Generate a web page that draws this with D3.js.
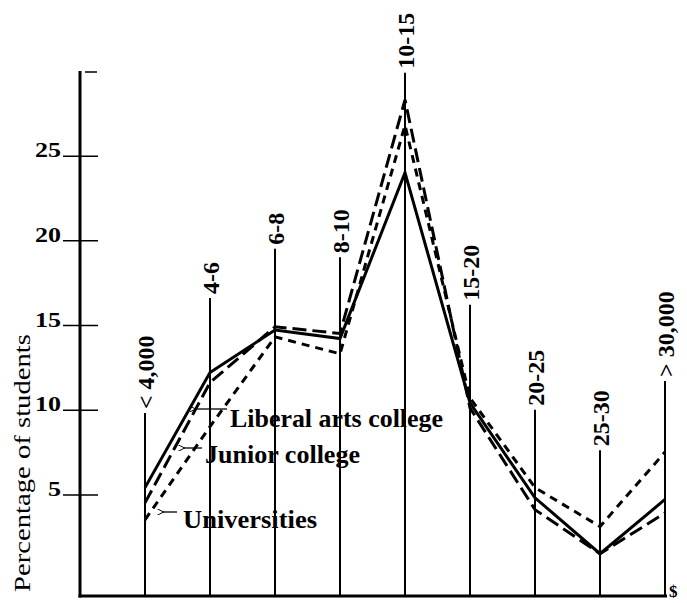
<!DOCTYPE html>
<html><head><meta charset="utf-8">
<script src="https://cdn.jsdelivr.net/npm/d3@7"></script>
<style>body{margin:0;background:#fff}</style>
</head><body>
<svg id="c" width="687" height="603"></svg>
<script>
// ---- data ----
const categories = ["< 4,000","4-6","6-8","8-10","10-15","15-20","20-25","25-30","> 30,000"];
const liberalArts   = [5.4, 12.2, 14.7, 14.2, 24.0, 10.4, 4.8, 1.5, 4.7];
const juniorCollege = [4.5, 11.6, 14.9, 14.5, 28.3, 10.1, 4.1, 1.5, 3.9];
const universities  = [3.5,  9.0, 14.3, 13.3, 26.8, 10.7, 5.4, 3.1, 7.5];
// height (in % units) reached by each category's vertical guide line
const guideHeights  = [9.8, 16.6, 19.5, 19.0, 29.9, 16.2, 10.0, 7.6, 11.7];
const yTicks = [5, 10, 15, 20, 25];
const yLabel = "Percentage of students";
const unitLabel = "$";
const seriesNames = ["Liberal arts college", "Junior college", "Universities"];

const svg = d3.select("#c");
const serif = "'Liberation Serif', 'DejaVu Serif', serif";

const x = d3.scalePoint().domain(categories).range([145, 665]);
const y = d3.scaleLinear().domain([-1, 30]).range([596, 71]);

// vertical guide lines
svg.append("g").selectAll("line").data(categories).join("line")
  .attr("x1", d => x(d)).attr("x2", d => x(d))
  .attr("y1", y(-1)).attr("y2", (d, i) => y(guideHeights[i]))
  .attr("stroke", "#000").attr("stroke-width", 2);

// category labels (rotated)
svg.append("g").selectAll("text").data(categories).join("text")
  .attr("transform", (d, i) => `translate(${x(d)},${y(guideHeights[i]) - 4}) rotate(-90)`)
  .attr("dy", "0.36em")
  .attr("font-family", serif).attr("font-weight", "bold").attr("font-size", 24)
  .attr("fill", "#000")
  .text(d => d);

// y axis
const yAxis = d3.axisLeft(y).tickValues(yTicks).tickSize(17).tickFormat(d3.format("d"));
const gy = svg.append("g").attr("transform", "translate(80,0)").call(yAxis);
gy.select(".domain").remove();
gy.selectAll(".tick line").attr("x1", -17).attr("x2", 18).attr("stroke-width", 1.5);
gy.selectAll(".tick text")
  .attr("x", -19).attr("dy", "0.05em")
  .attr("font-family", serif).attr("font-weight", "bold").attr("font-size", 20)
  .attr("fill", "#000")
  .attr("textLength", d => String(d).length * 13)
  .attr("lengthAdjust", "spacingAndGlyphs");
// top small tick
svg.append("line").attr("x1", 85).attr("x2", 97).attr("y1", y(30)+1).attr("y2", y(30)+1)
  .attr("stroke", "#000").attr("stroke-width", 1.5);

svg.append("line").attr("x1", 80).attr("x2", 80).attr("y1", y(30)).attr("y2", y(-1) + 1.5)
  .attr("stroke", "#000").attr("stroke-width", 3);
// baseline
svg.append("line").attr("x1", 78.5).attr("x2", x(categories[categories.length-1]) + 2).attr("y1", y(-1)).attr("y2", y(-1))
  .attr("stroke", "#000").attr("stroke-width", 3);
svg.append("text").attr("x", 669).attr("y", 597)
  .attr("font-family", serif).attr("font-weight", "bold").attr("font-size", 17)
  .text(unitLabel);

// y label
svg.append("text")
  .attr("transform", `translate(30,463) rotate(-90)`)
  .attr("text-anchor", "middle")
  .attr("font-family", serif).attr("font-size", 24)
  .attr("textLength", 258).attr("lengthAdjust", "spacingAndGlyphs")
  .text(yLabel);

// series lines
const line = d3.line().x((d, i) => x(categories[i])).y(d => y(d));
const series = [
  {vals: liberalArts, dash: null},
  {vals: juniorCollege, dash: "14,6"},
  {vals: universities, dash: "8,6"}
];
svg.append("g").selectAll("path").data(series).join("path")
  .attr("d", d => line(d.vals))
  .attr("fill", "none").attr("stroke", "#000").attr("stroke-width", 3)
  .attr("stroke-dasharray", d => d.dash)
  .attr("stroke-linejoin", "miter");

// legend annotations with arrows
svg.append("defs").append("marker").attr("id", "ah")
  .attr("viewBox", "0 0 10 10").attr("refX", 1).attr("refY", 5)
  .attr("markerWidth", 5).attr("markerHeight", 5).attr("orient", "auto-start-reverse")
  .append("path").attr("d", "M10,0 L0,5 L10,10").attr("fill", "none").attr("stroke", "#000").attr("stroke-width", 1.5);

const ann = [
  {name: seriesNames[0], ax1: 227, ax2: 195, ay: 409, tx: 230, ty: 427, len: 213},
  {name: seriesNames[1], ax1: 202, ax2: 184, ay: 448, tx: 205, ty: 463, len: 155},
  {name: seriesNames[2], ax1: 177, ax2: 163, ay: 512, tx: 183, ty: 528, len: 134}
];
const ga = svg.append("g");
ga.selectAll("line").data(ann).join("line")
  .attr("x1", d => d.ax1).attr("x2", d => d.ax2).attr("y1", d => d.ay).attr("y2", d => d.ay)
  .attr("stroke", "#000").attr("stroke-width", 1.3).attr("marker-end", "url(#ah)");
ga.selectAll("text").data(ann).join("text")
  .attr("x", d => d.tx).attr("y", d => d.ty)
  .attr("font-family", serif).attr("font-weight", "bold").attr("font-size", 25)
  .attr("textLength", d => d.len).attr("lengthAdjust", "spacingAndGlyphs")
  .text(d => d.name);
</script>
</body></html>
